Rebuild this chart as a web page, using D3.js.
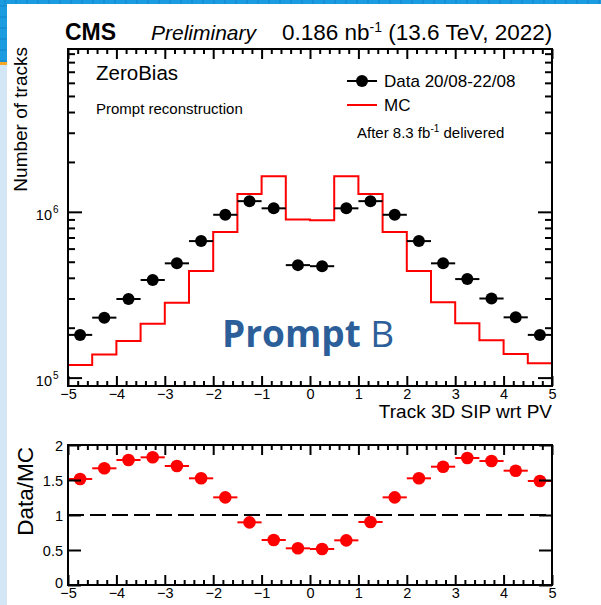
<!DOCTYPE html>
<html>
<head>
<meta charset="utf-8">
<script src="https://cdn.jsdelivr.net/npm/d3@7"></script>
<style>
  body { margin: 0; background: #fff; }
  svg text { font-family: "Liberation Sans", Arial, Helvetica, sans-serif; fill: #000; }
</style>
</head>
<body>
<div id="chart"></div>
<script>
// Track 3D SIP wrt PV — data vs MC with ratio panel

const binEdges = [-5, -4.5, -4, -3.5, -3, -2.5, -2, -1.5, -1, -0.5, 0, 0.5, 1, 1.5, 2, 2.5, 3, 3.5, 4, 4.5, 5];
const binCenters = [-4.75, -4.25, -3.75, -3.25, -2.75, -2.25, -1.75, -1.25, -0.75, -0.25,
                    0.25, 0.75, 1.25, 1.75, 2.25, 2.75, 3.25, 3.75, 4.25, 4.75];
const dataCounts = [181000, 230000, 298000, 388000, 489000, 666000, 960000, 1160000, 1050000, 477000,
                    470000, 1050000, 1160000, 960000, 666000, 489000, 393000, 300000, 231000, 181000];
const mcCounts = [119000, 138000, 166000, 211000, 283000, 439000, 755000, 1280000, 1640000, 900000,
                  890000, 1640000, 1280000, 755000, 439000, 285000, 213000, 168000, 139000, 122000];
const ratioValues = [1.514, 1.667, 1.786, 1.824, 1.70, 1.524, 1.252, 0.895, 0.643, 0.524,
                     0.514, 0.638, 0.90, 1.252, 1.524, 1.69, 1.814, 1.771, 1.633, 1.486];

const xMajorTicks = [-5, -4, -3, -2, -1, 0, 1, 2, 3, 4, 5];
const logMajorTicks = [1e5, 1e6];
const logTickExponents = ["5", "6"];
const logMinorTicks = [2e5, 3e5, 4e5, 5e5, 6e5, 7e5, 8e5, 9e5, 2e6, 3e6, 4e6, 5e6, 6e6, 7e6, 8e6, 9e6];
const ratioTicks = [0, 0.5, 1, 1.5, 2];
const ratioTickLabels = ["0", "0.5", "1", "1.5", "2"];

const width = 601;
const height = 605;
const left = 68, right = 552;
const main = { top: 49, bottom: 386 };
const ratio = { top: 445, bottom: 585 };

const svg = d3.select("#chart").append("svg")
  .attr("width", width)
  .attr("height", height);

svg.append("rect").attr("width", width).attr("height", height).attr("fill", "#fff");

// slide decoration round the picture
const deco = svg.append("g");
deco.append("rect").attr("x", 0).attr("y", 0).attr("width", width).attr("height", 4).attr("fill", "#1b9be0");
deco.append("rect").attr("x", 0).attr("y", 0).attr("width", 7).attr("height", 62).attr("fill", "#1b9be0");
deco.append("rect").attr("x", 0).attr("y", 62).attr("width", 7).attr("height", 3).attr("fill", "#f5a623");
deco.append("rect").attr("x", 0).attr("y", 65).attr("width", 7).attr("height", height - 65).attr("fill", "#d2e6f5");
deco.selectAll("line.gv").data(d3.range(5, width, 11)).enter().append("line")
  .attr("x1", d => d).attr("x2", d => d).attr("y1", 0).attr("y2", 4)
  .attr("stroke", "#1384c8").attr("stroke-width", 1);
deco.selectAll("line.gh").data(d3.range(6, 62, 11)).enter().append("line")
  .attr("x1", 0).attr("x2", 7).attr("y1", d => d).attr("y2", d => d)
  .attr("stroke", "#1384c8").attr("stroke-width", 1);

const xScale = d3.scaleLinear().domain([-5, 5]).range([left, right]);
const yScale = d3.scaleLog().domain([8.9e4, 9.6e6]).range([main.bottom, main.top]);
const rScale = d3.scaleLinear().domain([0, 2]).range([ratio.bottom, ratio.top]);

const xMinorTicks = d3.range(-50, 51, 2).map(d => d / 10).filter(d => !Number.isInteger(d));

function styleTicks(g) {
  g.select(".domain").remove();
  g.selectAll(".tick line").attr("stroke", "#000").attr("stroke-width", 2);
  g.attr("font-family", null).attr("font-size", null);
}

function frameTicks(top, bottom, yAxisL, yAxisR) {
  const gb = svg.append("g").attr("transform", `translate(0,${bottom})`);
  gb.call(d3.axisBottom(xScale).tickValues(xMinorTicks).tickSize(-5).tickFormat(""));
  styleTicks(gb);
  const gt = svg.append("g").attr("transform", `translate(0,${top})`);
  gt.call(d3.axisTop(xScale).tickValues(xMinorTicks).tickSize(-5).tickFormat(""));
  styleTicks(gt);
  const gbM = svg.append("g").attr("transform", `translate(0,${bottom})`);
  gbM.call(d3.axisBottom(xScale).tickValues(xMajorTicks).tickSize(-10).tickPadding(3));
  styleTicks(gbM);
  gbM.selectAll(".tick text").style("font-size", "14.5px");
  const gtM = svg.append("g").attr("transform", `translate(0,${top})`);
  gtM.call(d3.axisTop(xScale).tickValues(xMajorTicks).tickSize(-10).tickFormat(""));
  styleTicks(gtM);
  yAxisL.forEach(a => {
    const g = svg.append("g").attr("transform", `translate(${left},0)`);
    g.call(a(d3.axisLeft)); styleTicks(g);
  });
  yAxisR.forEach(a => {
    const g = svg.append("g").attr("transform", `translate(${right},0)`);
    g.call(a(d3.axisRight)); styleTicks(g);
  });
}

// ---------- main panel ----------
svg.append("clipPath").attr("id", "clipMain").append("rect")
  .attr("x", left).attr("y", main.top).attr("width", right - left).attr("height", main.bottom - main.top);

const stepPoints = [[binEdges[0], yScale.domain()[0]]]
  .concat(mcCounts.map((v, i) => [binEdges[i], v]))
  .concat([[binEdges[binEdges.length - 1], mcCounts[mcCounts.length - 1]], [binEdges[binEdges.length - 1], yScale.domain()[0]]]);

svg.append("path")
  .datum(stepPoints)
  .attr("clip-path", "url(#clipMain)")
  .attr("fill", "none")
  .attr("stroke", "#ff0000")
  .attr("stroke-width", 2)
  .attr("d", d3.line().x(d => xScale(d[0])).y(d => yScale(d[1])).curve(d3.curveStepAfter));

const dataG = svg.append("g");
dataG.selectAll("line").data(binCenters).enter().append("line")
  .attr("x1", (d, i) => xScale(binEdges[i]))
  .attr("x2", (d, i) => xScale(binEdges[i + 1]))
  .attr("y1", (d, i) => yScale(dataCounts[i]))
  .attr("y2", (d, i) => yScale(dataCounts[i]))
  .attr("stroke", "#000").attr("stroke-width", 2);
dataG.selectAll("circle").data(binCenters).enter().append("circle")
  .attr("cx", d => xScale(d))
  .attr("cy", (d, i) => yScale(dataCounts[i]))
  .attr("r", 6)
  .attr("fill", "#000");

frameTicks(main.top, main.bottom,
  [a => a(yScale).tickValues(logMinorTicks).tickSize(-7).tickFormat(""),
   a => a(yScale).tickValues(logMajorTicks).tickSize(-14).tickFormat("")],
  [a => a(yScale).tickValues(logMinorTicks).tickSize(-7).tickFormat(""),
   a => a(yScale).tickValues(logMajorTicks).tickSize(-14).tickFormat("")]);

svg.append("rect")
  .attr("x", left).attr("y", main.top)
  .attr("width", right - left).attr("height", main.bottom - main.top)
  .attr("fill", "none").attr("stroke", "#000").attr("stroke-width", 2);

// log labels 10^n
logMajorTicks.forEach((v, i) => {
  svg.append("text")
    .attr("x", 52).attr("y", yScale(v) + 8)
    .attr("text-anchor", "end")
    .style("font-size", "14.5px")
    .text("10");
  svg.append("text")
    .attr("x", 53).attr("y", yScale(v) + 1)
    .style("font-size", "10px")
    .text(logTickExponents[i]);
});

svg.append("text")
  .attr("transform", "translate(27,47) rotate(-90)")
  .attr("text-anchor", "end")
  .style("font-size", "19px")
  .text("Number of tracks");

svg.append("text")
  .attr("x", right).attr("y", 418)
  .attr("text-anchor", "end")
  .style("font-size", "19px")
  .text("Track 3D SIP wrt PV");

// header
svg.append("text").attr("x", 65).attr("y", 40)
  .style("font-size", "23px").style("font-weight", "bold").text("CMS");
svg.append("text").attr("x", 151).attr("y", 40)
  .style("font-size", "21px").style("font-style", "italic").text("Preliminary");
const lumi = svg.append("text").attr("x", 282).attr("y", 40).style("font-size", "22.5px");
lumi.append("tspan").text("0.186 nb");
lumi.append("tspan").attr("dy", -8).style("font-size", "14px").text("-1");
lumi.append("tspan").attr("dy", 8).text(" (13.6 TeV, 2022)");

svg.append("text").attr("x", 96).attr("y", 80).style("font-size", "20.5px").text("ZeroBias");
svg.append("text").attr("x", 96).attr("y", 114).style("font-size", "15px").text("Prompt reconstruction");

// legend
svg.append("line").attr("x1", 347).attr("x2", 377).attr("y1", 81).attr("y2", 81)
  .attr("stroke", "#000").attr("stroke-width", 2);
svg.append("circle").attr("cx", 362).attr("cy", 81).attr("r", 6).attr("fill", "#000");
svg.append("text").attr("x", 384).attr("y", 87).style("font-size", "17px").text("Data 20/08-22/08");
svg.append("line").attr("x1", 347).attr("x2", 377).attr("y1", 105).attr("y2", 105)
  .attr("stroke", "#ff0000").attr("stroke-width", 2);
svg.append("text").attr("x", 384).attr("y", 111).style("font-size", "17px").text("MC");
const after = svg.append("text").attr("x", 357).attr("y", 138).style("font-size", "15px");
after.append("tspan").text("After 8.3 fb");
after.append("tspan").attr("dy", -6).style("font-size", "10px").text("-1");
after.append("tspan").attr("dy", 6).text(" delivered");

const prompt = svg.append("text").attr("x", 222).attr("y", 347)
  .style("font-family", "'Open Sans', 'Noto Sans', sans-serif")
  .style("font-size", "37px").style("fill", "#2c5f99");
prompt.append("tspan").style("font-weight", "bold").text("Prompt");
prompt.append("tspan").text(" B");

// ---------- ratio panel ----------
svg.append("line")
  .attr("x1", left).attr("x2", right)
  .attr("y1", rScale(1)).attr("y2", rScale(1))
  .attr("stroke", "#000").attr("stroke-width", 2)
  .attr("stroke-dasharray", "16,6");

const ratioG = svg.append("g");
ratioG.selectAll("line").data(binCenters).enter().append("line")
  .attr("x1", (d, i) => xScale(binEdges[i]))
  .attr("x2", (d, i) => xScale(binEdges[i + 1]))
  .attr("y1", (d, i) => rScale(ratioValues[i]))
  .attr("y2", (d, i) => rScale(ratioValues[i]))
  .attr("stroke", "#ff0000").attr("stroke-width", 2);
ratioG.selectAll("circle").data(binCenters).enter().append("circle")
  .attr("cx", d => xScale(d))
  .attr("cy", (d, i) => rScale(ratioValues[i]))
  .attr("r", 6.3)
  .attr("fill", "#ff0000");

frameTicks(ratio.top, ratio.bottom,
  [a => a(rScale).tickValues(ratioTicks).tickSize(-13).tickFormat("")],
  [a => a(rScale).tickValues(ratioTicks).tickSize(-13).tickFormat("")]);

svg.append("rect")
  .attr("x", left).attr("y", ratio.top)
  .attr("width", right - left).attr("height", ratio.bottom - ratio.top)
  .attr("fill", "none").attr("stroke", "#000").attr("stroke-width", 2);

svg.append("g").selectAll("text").data(ratioTicks).enter().append("text")
  .attr("x", 63)
  .attr("y", d => rScale(d) + (d === 0 ? 2.5 : 5.5))
  .attr("text-anchor", "end")
  .style("font-size", "14.5px")
  .text((d, i) => ratioTickLabels[i]);

svg.append("text")
  .attr("transform", "translate(33,447) rotate(-90)")
  .attr("text-anchor", "end")
  .style("font-size", "22.5px")
  .text("Data/MC");
</script>
</body>
</html>
